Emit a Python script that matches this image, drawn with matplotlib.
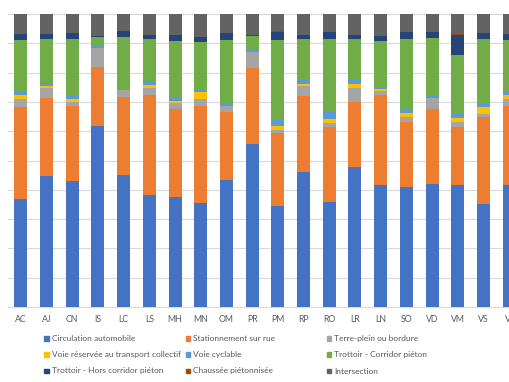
import matplotlib
matplotlib.use("Agg")
import matplotlib.pyplot as plt
from matplotlib.patches import Rectangle
import numpy as np

categories = ["AC", "AJ", "CN", "IS", "LC", "LS", "MH", "MN", "OM", "PR",
              "PM", "RP", "RO", "LR", "LN", "SO", "VD", "VM", "VS", "Vi"]

series_names = ["Circulation automobile", "Stationnement sur rue", "Terre-plein ou bordure",
                "Voie réservée au transport collectif", "Voie cyclable", "Trottoir - Corridor piéton",
                "Trottoir - Hors corridor piéton", "Chaussée piétonnisée", "Intersection"]

circulation = [36.9, 44.8, 42.9, 61.9, 45.2, 38.3, 37.5, 35.4, 43.2, 55.6,
               34.5, 46.1, 35.7, 47.7, 41.7, 41.0, 42.0, 41.6, 35.2, 41.7]
stationnement = [31.3, 26.6, 25.8, 20.1, 26.6, 34.1, 30.2, 33.3, 23.5, 26.1,
                 24.9, 25.9, 25.8, 22.4, 30.7, 22.0, 25.7, 19.9, 29.6, 27.0]
terre_plein = [2.8, 3.4, 1.4, 6.5, 2.3, 2.4, 1.8, 2.3, 2.0, 5.2,
               1.0, 3.4, 1.3, 4.8, 1.3, 1.9, 3.6, 1.8, 1.2, 2.4]
voie_reservee = [1.4, 0.6, 0.8, 0.0, 0.0, 1.1, 0.7, 2.5, 0.0, 0.2,
                 1.5, 0.8, 1.5, 1.1, 0.7, 1.3, 0.0, 1.2, 2.2, 1.3]
voie_cyclable = [1.1, 0.9, 1.5, 0.6, 0.0, 1.1, 1.4, 0.4, 1.0, 0.7,
                 2.3, 1.2, 2.4, 1.9, 0.4, 0.9, 1.0, 1.3, 1.2, 1.1]
trottoir_corridor = [17.7, 15.2, 19.1, 3.2, 18.2, 14.4, 19.3, 16.5, 21.4, 4.7,
                     26.9, 14.0, 24.7, 13.5, 16.1, 24.4, 19.6, 20.3, 21.9, 17.5]
trottoir_hors = [1.9, 1.7, 2.1, 0.3, 2.0, 1.5, 2.0, 1.8, 2.3, 0.3,
                 2.9, 1.4, 2.6, 1.3, 1.7, 2.4, 2.1, 6.8, 2.2, 2.3]
chaussee = [0.0, 0.0, 0.0, 0.0, 0.0, 0.0, 0.0, 0.0, 0.0, 0.0,
            0.1, 0.0, 0.0, 0.0, 0.0, 0.0, 0.0, 0.4, 0.0, 0.0]
intersection = [6.9, 6.8, 6.4, 7.4, 5.7, 7.1, 7.1, 7.8, 6.6, 7.2,
                5.9, 7.2, 6.0, 7.3, 7.4, 6.1, 6.0, 6.7, 6.5, 6.7]

colors = ["#4472C4", "#ED7D31", "#A5A5A5", "#FFC000", "#5B9BD5",
          "#70AD47", "#264478", "#9E480E", "#636363"]

data = np.array([circulation, stationnement, terre_plein, voie_reservee, voie_cyclable,
                 trottoir_corridor, trottoir_hors, chaussee, intersection], dtype=float)
pct = data / data.sum(axis=0) * 100.0

plt.rcParams["font.family"] = ["Lato", "DejaVu Sans"]
W, H = 510, 382
fig = plt.figure(figsize=(W / 100, H / 100), dpi=100)
ax = fig.add_axes([8 / W, 75 / H, 514 / W, 293 / H])

x = np.arange(len(categories))
bottom = np.zeros(len(categories))
for vals, col, name in zip(pct, colors, series_names):
    ax.bar(x, vals, bottom=bottom, width=0.506, color=col, label=name, zorder=3, linewidth=0)
    bottom += vals

ax.set_xlim(-0.5, len(categories) - 0.5)
ax.set_ylim(0, 100)
ax.set_yticks(np.arange(0, 101, 10))
ax.yaxis.grid(True, color="#D9D9D9", linewidth=0.8, zorder=0)
ax.tick_params(axis="y", left=False, labelleft=False)
ax.set_xticks(x)
ax.set_xticklabels(categories, fontsize=6.3, color="#595959")
ax.tick_params(axis="x", length=0, pad=6)
for s in ["top", "left", "right"]:
    ax.spines[s].set_visible(False)
ax.spines["bottom"].set_color("#D9D9D9")
ax.spines["bottom"].set_linewidth(0.8)

# legend (3 x 3, row-major like the original)
col_x = [44.3, 185.7, 326.7]
row_y = [338.3, 354.7, 371.0]
sq = 4.7
for i, (name, col) in enumerate(zip(series_names, colors)):
    r, c = divmod(i, 3)
    x0 = col_x[c]
    yc = row_y[r]
    fig.patches.append(Rectangle((x0 / W, 1 - (yc + sq / 2) / H), sq / W, sq / H,
                                 transform=fig.transFigure, color=col, figure=fig))
    fig.text((x0 + 7.4) / W, 1 - yc / H, name, fontsize=6.0, color="#595959",
             ha="left", va="center")

fig.savefig("out.png", dpi=100)
